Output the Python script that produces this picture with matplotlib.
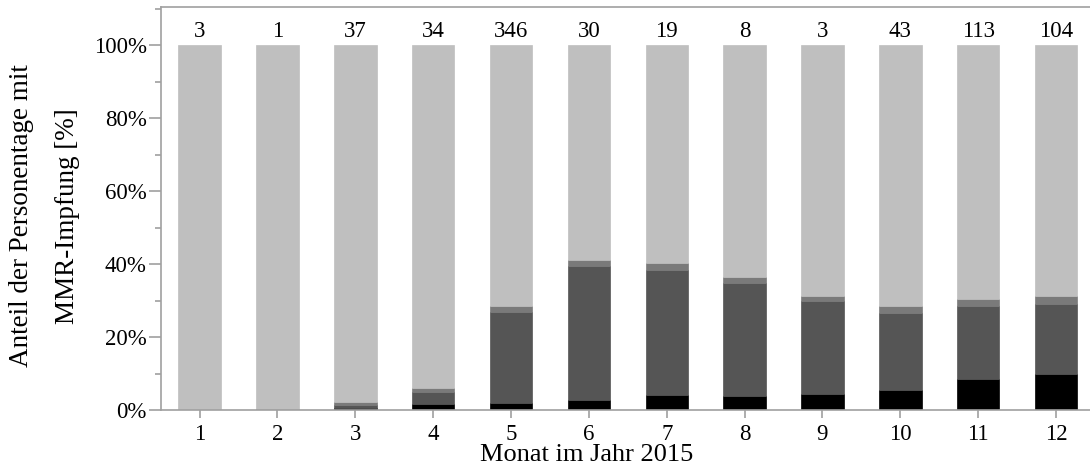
import numpy as np
import matplotlib
matplotlib.use("Agg")
import matplotlib.pyplot as plt
from matplotlib.ticker import MultipleLocator, PercentFormatter

plt.rcParams['font.family'] = ['Liberation Serif', 'DejaVu Serif']

# Monate 2015, Anteile in % je Kategorie (von unten nach oben)
monate = np.arange(1, 13)
anzahl = [3, 1, 37, 34, 346, 30, 19, 8, 3, 43, 113, 104]
schwarz = np.array([0, 0, 0.7, 1.9, 2.0, 2.8, 4.2, 4.1, 4.5, 5.6, 8.6, 10.1])
dunkel = np.array([0, 0, 0.8, 3.1, 25.0, 36.9, 34.2, 30.7, 25.6, 21.2, 20.1, 19.1])
mittel = np.array([0, 0.4, 0.7, 1.1, 1.7, 1.6, 2.0, 1.7, 1.3, 1.9, 1.8, 2.2])
hell = 100 - schwarz - dunkel - mittel

farben = ['#000000', '#555555', '#7a7a7a', '#bfbfbf']
achse = '#a0a0a0'

fig = plt.figure(figsize=(10.9, 4.72), dpi=100)
ax = fig.add_axes([0.1474, 0.1303, 0.8572, 0.8542])

unten = np.zeros(len(monate))
for werte, farbe in zip([schwarz, dunkel, mittel, hell], farben):
    ax.bar(monate, werte, width=0.545, bottom=unten, color=farbe,
           edgecolor=farbe, linewidth=0.5)
    unten = unten + werte

for m, n in zip(monate, anzahl):
    ax.text(m, 103.7, str(n), ha='center', va='center', fontsize=16.5)

ax.set_xlim(0.5, 12.5)
ax.set_ylim(0, 110.4)
ax.set_xticks(monate)
ax.yaxis.set_major_locator(MultipleLocator(20))
ax.yaxis.set_minor_locator(MultipleLocator(10))
ax.yaxis.set_major_formatter(PercentFormatter(decimals=0))

for s in ['left', 'bottom', 'top']:
    ax.spines[s].set_color(achse)
    ax.spines[s].set_linewidth(1.2)
ax.spines['right'].set_visible(False)
ax.tick_params(axis='both', which='both', color=achse, width=1.2,
               labelsize=16.5)
ax.tick_params(axis='y', which='major', length=9, pad=1)
ax.tick_params(axis='y', which='minor', length=4)
ax.tick_params(axis='x', length=6, pad=4)

fig.text(587 / 1090, 1 - 455 / 472, 'Monat im Jahr 2015', ha='center',
         va='center', fontsize=19)
fig.text(22 / 1090, 1 - 216 / 472, 'Anteil der Personentage mit',
         ha='center', va='center', rotation=90, fontsize=19.5)
fig.text(68 / 1090, 1 - 216 / 472, 'MMR-Impfung [%]',
         ha='center', va='center', rotation=90, fontsize=19.5)

fig.savefig('out.png', dpi=100)
